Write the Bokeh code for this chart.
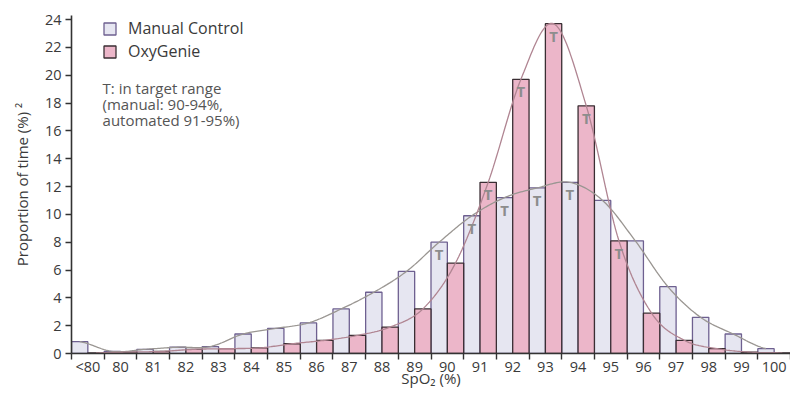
import numpy as np
from bokeh.plotting import figure
from bokeh.models import ColumnDataSource, Range1d, FixedTicker, Legend, LegendItem, Label
from bokeh.core.properties import value
from bokeh.embed import file_html
from bokeh.resources import INLINE

categories = ["<80", "80", "81", "82", "83", "84", "85", "86", "87", "88", "89",
              "90", "91", "92", "93", "94", "95", "96", "97", "98", "99", "100"]
manual = [0.85, 0.15, 0.3, 0.45, 0.5, 1.4, 1.8, 2.2, 3.2, 4.4, 5.9,
          8.0, 9.9, 11.2, 11.9, 12.3, 11.0, 8.1, 4.8, 2.6, 1.4, 0.35]
oxygenie = [0.05, 0.1, 0.15, 0.3, 0.35, 0.4, 0.7, 0.95, 1.3, 1.9, 3.2,
            6.5, 12.3, 19.7, 23.7, 17.8, 8.1, 2.9, 0.95, 0.35, 0.1, 0.05]
manual_target = ["90", "91", "92", "93", "94"]
oxy_target = ["91", "92", "93", "94", "95"]
y_ticks = list(range(0, 25, 2))

FONT = "Open Sans"
TXT = "#3a3a3a"

n = len(categories)
idx = np.arange(n)
man_x = idx + 0.25
oxy_x = idx + 0.75


def catmull(xs, ys, steps=20):
    xs = np.asarray(xs, float)
    ys = np.asarray(ys, float)
    px = np.concatenate([[2 * xs[0] - xs[1]], xs, [2 * xs[-1] - xs[-2]]])
    py = np.concatenate([[ys[0]], ys, [ys[-1]]])
    ox, oy = [], []
    for i in range(1, len(px) - 2):
        t = np.linspace(0, 1, steps, endpoint=False)
        for arr, out in ((px, ox), (py, oy)):
            p0, p1, p2, p3 = arr[i - 1], arr[i], arr[i + 1], arr[i + 2]
            out.extend(0.5 * ((2 * p1) + (-p0 + p2) * t + (2 * p0 - 5 * p1 + 4 * p2 - p3) * t ** 2
                              + (-p0 + 3 * p1 - 3 * p2 + p3) * t ** 3))
    ox.append(xs[-1])
    oy.append(ys[-1])
    return np.array(ox), np.clip(np.array(oy), 0, None)


p = figure(width=790, height=390, output_backend="svg", toolbar_location=None,
           x_range=Range1d(0, n), y_range=Range1d(0, 24.29),
           min_border_left=71, min_border_right=0, min_border_top=15, min_border_bottom=37)
p.outline_line_color = None
p.xgrid.visible = False
p.ygrid.visible = False
p.background_fill_color = "white"

src_m = ColumnDataSource(dict(x=man_x, top=manual))
src_o = ColumnDataSource(dict(x=oxy_x, top=oxygenie))
r_m = p.vbar(x="x", top="top", width=0.5, bottom=0, source=src_m,
             fill_color="#e6e6f1", line_color="#6e6090", line_width=1.3)
r_o = p.vbar(x="x", top="top", width=0.5, bottom=0, source=src_o,
             fill_color="#ecb6c9", line_color="#3a2e33", line_width=1.3)

cx, cy = catmull(man_x, manual)
p.line(cx, cy, line_color="#9a9692", line_width=1.3)
ox_, oy_ = catmull(oxy_x, oxygenie)
p.line(ox_, oy_, line_color="#b08592", line_width=1.3)

tm = [i for i, c in enumerate(categories) if c in manual_target]
to = [i for i, c in enumerate(categories) if c in oxy_target]
p.text(x=[man_x[i] for i in tm], y=[manual[i] for i in tm], text=["T"] * len(tm),
       text_align="center", text_baseline="top", y_offset=2,
       text_font=value(FONT), text_font_size="15px", text_font_style="bold", text_color="#8d8d8d")
p.text(x=[oxy_x[i] for i in to], y=[oxygenie[i] for i in to], text=["T"] * len(to),
       text_align="center", text_baseline="top", y_offset=2,
       text_font=value(FONT), text_font_size="15px", text_font_style="bold", text_color="#8d8d8d")

# axes
xa = p.xaxis[0]
xa.ticker = FixedTicker(ticks=[i + 0.5 for i in range(n)], minor_ticks=list(range(n + 1)))
xa.major_label_overrides = {i + 0.5: c for i, c in enumerate(categories)}
xa.major_tick_out = 0
xa.major_tick_in = 0
xa.minor_tick_out = 6
xa.minor_tick_in = 0
xa.axis_label = "SpO₂ (%)"

ya = p.yaxis[0]
ya.ticker = FixedTicker(ticks=y_ticks, minor_ticks=[])
ya.major_tick_out = 6
ya.major_tick_in = 0
ya.axis_label = "Proportion of time (%) ²"

for ax in (xa, ya):
    ax.axis_line_color = "#333333"
    ax.axis_line_width = 1.6
    ax.major_tick_line_color = "#333333"
    ax.minor_tick_line_color = "#333333"
    ax.major_tick_line_width = 1.4
    ax.minor_tick_line_width = 1.4
    ax.major_label_text_font = FONT
    ax.major_label_text_font_size = "14.5px"
    ax.major_label_text_color = TXT
    ax.axis_label_text_font = FONT
    ax.axis_label_text_font_size = "15px"
    ax.axis_label_text_font_style = "normal"
    ax.axis_label_text_color = TXT
xa.major_label_standoff = -3
xa.axis_label_standoff = -11
ya.major_label_standoff = 4
ya.axis_label_standoff = 10

legend = Legend(items=[LegendItem(label="Manual Control", renderers=[r_m]),
                       LegendItem(label="OxyGenie", renderers=[r_o])],
                location=(31, 291), padding=6, margin=0, spacing=1,
                glyph_width=15, glyph_height=15, label_standoff=11,
                label_text_font=FONT, label_text_font_size="16px", label_text_color=TXT,
                border_line_color=None, background_fill_alpha=0)
p.add_layout(legend)

for txt, yv in (("T: in target range", 19.1), ("(manual: 90-94%,", 17.96), ("automated 91-95%)", 16.8)):
    p.add_layout(Label(x=0.95, y=yv, text=txt, text_font=FONT, text_font_size="15px",
                       text_color="#555555", text_baseline="alphabetic"))

open("out.html", "w").write(file_html(p, INLINE))
